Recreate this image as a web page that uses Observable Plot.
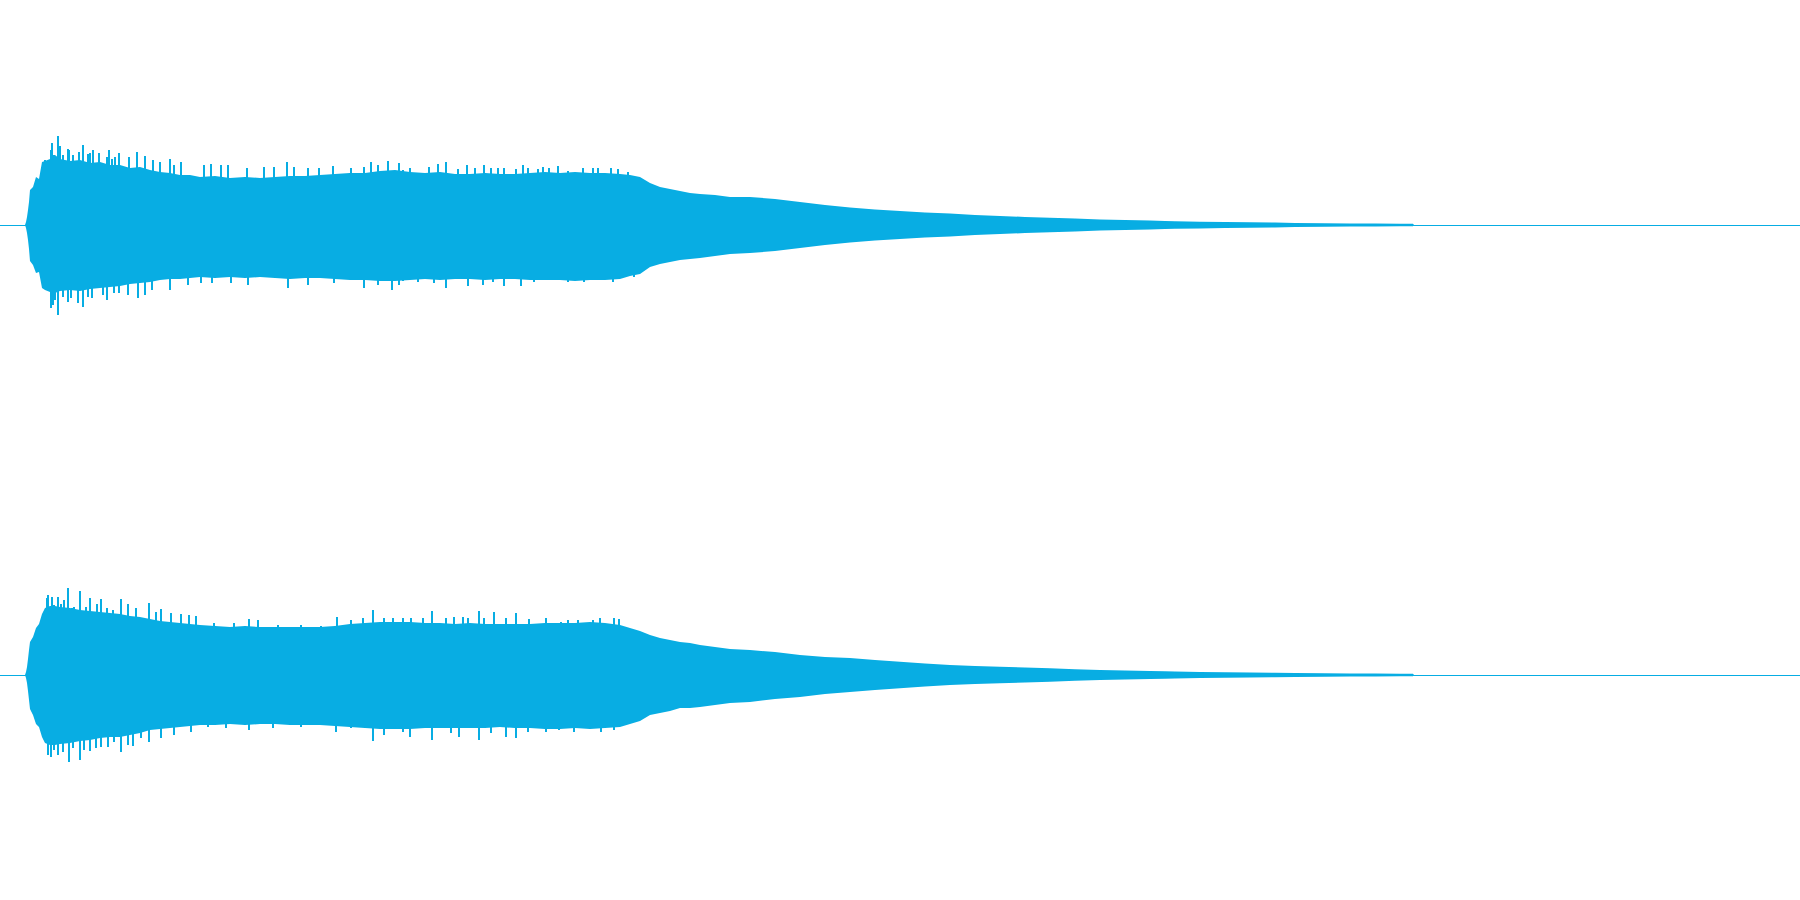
<!DOCTYPE html>
<html>
<head>
<meta charset="utf-8">
<script src="https://cdn.jsdelivr.net/npm/d3@7"></script>
<script src="https://cdn.jsdelivr.net/npm/@observablehq/plot@0.6"></script>
<style>
  html, body { margin: 0; padding: 0; background: #ffffff; overflow: hidden; }
  #chart svg { display: block; }
</style>
</head>
<body>
<div id="chart"></div>
<script>
// Time axis (seconds), total length of the clip
const duration = 9;
const channels = ["L", "R"];

// Envelope sample times (seconds)
const times = [0,0.125,0.13,0.135,0.14,0.145,0.15,0.165,0.18,0.195,0.21,0.225,0.25,0.275,0.3,0.35,0.4,0.45,0.5,0.55,0.6,0.65,0.7,0.75,0.8,0.85,0.9,0.95,1.0,1.075,1.15,1.225,1.3,1.375,1.45,1.525,1.6,1.675,1.75,1.825,1.9,1.975,2.05,2.125,2.2,2.275,2.35,2.425,2.5,2.575,2.65,2.725,2.8,2.875,2.95,3.025,3.1,3.15,3.2,3.25,3.3,3.35,3.4,3.45,3.5,3.575,3.65,3.75,3.875,4.0,4.125,4.25,4.375,4.5,4.625,4.75,4.875,5.0,5.125,5.25,5.375,5.5,5.625,5.75,5.825,5.875,6.0,6.125,6.25,6.375,6.475,6.625,6.75,6.875,7.0,7.065,7.07];

// Channel L: typical positive and negative peak (percent of full scale)
const leftMax = [0,0,1.3,3.6,6.7,10.2,15.6,16.9,21.3,20.4,28,28.4,29.3,31.1,29.3,28.4,28.9,27.6,28,26.7,26.7,25.3,25.8,24.4,23.6,23.1,22.2,22.2,21.3,21.8,20.9,21.3,20.9,21.3,21.8,21.8,22.2,22.7,23.1,23.1,24,24.4,23.6,23.1,23.6,22.7,22.7,23.1,22.7,22.7,23.1,23.6,23.1,23.6,23.1,23.1,22.7,22.2,21.3,18.7,16.9,16,15.1,14.2,13.8,13.3,12.4,12.4,11.6,10.2,8.9,7.8,6.9,6.2,5.6,5.1,4.4,4,3.6,3.2,2.9,2.4,2.2,2,1.8,1.7,1.5,1.3,1.2,1.1,0.9,0.8,0.7,0.7,0.6,0.6,0];
const leftMin = [0,0,1.3,3.6,6.7,10.7,16,17.8,21.3,20.9,28,28.9,29.8,30.2,29.3,28.9,29.3,28.4,28,27.6,27.1,26.2,25.8,25.3,24.4,24,24,23.6,23.1,23.6,23.1,23.6,23.1,23.6,24,23.6,23.6,24,24.4,24.4,24.9,24.9,24.4,24,24.4,24,24,24.4,24,24,24.4,24.4,24.4,24.9,24.4,24.4,24,22.7,21.8,18.7,17.3,16.4,15.6,15.1,14.7,13.8,12.9,12.4,11.6,10.2,8.9,7.8,6.9,6.2,5.6,5.1,4.4,4,3.6,3.2,2.9,2.4,2.2,2,1.8,1.7,1.5,1.3,1.2,1.1,0.9,0.8,0.7,0.7,0.6,0.6,0];

// Channel R
const rightMax = [0,0,1.3,3.6,7.1,11.1,14.7,16.9,20.9,22.7,27.1,29.8,30.7,30.7,30.2,29.8,28.9,28.4,28,27.6,27.1,26.2,25.8,24.9,24,23.6,23.1,22.7,22.2,21.8,21.3,21.8,21.3,21.3,21.3,21.3,21.3,21.8,22.7,23.1,23.6,23.6,23.6,23.1,23.1,22.7,23.1,22.7,22.7,22.7,22.7,23.1,23.1,23.1,23.6,23.1,22.2,20.9,19.6,17.8,16.4,15.6,14.7,14.2,13.3,12.4,11.6,11.1,10.2,8.9,8,7.6,6.7,5.9,5.1,4.4,4,3.7,3.3,3,2.6,2.2,2,1.8,1.7,1.6,1.3,1.2,1.1,1,0.9,0.8,0.7,0.7,0.6,0.6,0];
const rightMin = [0,0,1.3,3.6,7.1,11.1,15.1,17.8,21.8,23.1,27.6,30.2,31.1,31.1,30.7,30.2,29.3,28.9,28,27.6,27.6,26.7,25.8,24.4,24,23.6,23.1,22.7,22.2,22.2,21.8,22.2,21.8,21.8,22.2,22.2,22.2,22.7,23.1,23.6,24,24,24,23.6,23.6,23.6,23.6,23.6,23.1,23.6,23.6,24,24,23.6,24,23.6,23.1,21.8,20.4,17.8,16.9,16,14.7,14.7,14.2,13.3,12.4,12,10.7,9.8,8.4,7.6,6.7,5.9,5.1,4.4,4,3.7,3.3,3,2.6,2.2,2,1.8,1.7,1.6,1.3,1.2,1.1,1,0.9,0.8,0.7,0.7,0.6,0.6,0];

// Isolated peak columns: positive peaks (time s, %) and negative peaks (time s, %)
const leftUpT = [0.22,0.25,0.255,0.265,0.285,0.295,0.31,0.335,0.34,0.36,0.39,0.41,0.435,0.445,0.46,0.49,0.53,0.54,0.555,0.57,0.59,0.64,0.68,0.72,0.76,0.795,0.845,0.865,0.9,1.015,1.05,1.1,1.135,1.23,1.315,1.365,1.43,1.465,1.535,1.59,1.66,1.75,1.815,1.85,1.885,1.935,1.99,2.01,2.045,2.14,2.185,2.225,2.285,2.33,2.37,2.415,2.45,2.485,2.515,2.575,2.61,2.635,2.685,2.71,2.74,2.785,2.835,2.91,2.96,2.985,3.05,3.085,3.135];
const leftUpV = [28.9,33.3,36.4,31.1,39.6,35.1,31.1,33.8,33.3,31.1,32.4,35.6,31.6,32,33.3,32,30.2,33.3,29.3,30.2,32,30.2,32.4,30.7,28.9,28,29.3,26.7,28,26.7,27.1,26.7,26.7,25.3,25.8,25.8,28,25.8,25.3,25.3,26.2,25.3,25.8,28,26.7,28.4,27.6,24.4,25.3,25.8,27.1,28,24.9,26.7,25.3,26.7,25.3,25.3,25.3,24.9,26.7,25.3,24.9,25.8,25.3,26.2,24,25.3,25.3,25.3,25.3,24.9,23.6];
const leftDownT = [0.215,0.25,0.26,0.27,0.285,0.31,0.335,0.35,0.385,0.41,0.435,0.455,0.51,0.53,0.565,0.59,0.635,0.685,0.72,0.755,0.845,0.935,1.0,1.055,1.15,1.235,1.435,1.535,1.665,1.815,1.885,1.955,1.99,2.01,2.085,2.165,2.225,2.335,2.41,2.46,2.515,2.6,2.665,2.76,2.835,2.915,3.0,3.06,3.165];
const leftDownV = [28,36.9,35.6,33.3,40,32,34.2,32.4,34.7,36.4,32,32.4,31.1,33.3,30.2,30.2,31.1,32.4,31.1,28.9,28.9,26.7,25.8,25.8,25.8,26.7,28,26.7,25.8,28,26.7,28.9,26.7,24.9,25.3,25.8,28,27.1,26.7,25.3,27.1,27.1,25.3,24,25.3,25.3,24.4,25.3,23.1];

const rightUpT = [0.23,0.235,0.255,0.265,0.285,0.3,0.315,0.335,0.355,0.365,0.395,0.425,0.445,0.48,0.5,0.53,0.56,0.6,0.635,0.675,0.74,0.775,0.8,0.85,0.9,0.94,0.975,1.065,1.165,1.24,1.285,1.385,1.5,1.6,1.68,1.75,1.81,1.86,1.915,1.96,2.01,2.05,2.11,2.155,2.225,2.265,2.31,2.335,2.39,2.415,2.465,2.525,2.575,2.64,2.725,2.8,2.835,2.885,2.96,2.995,3.065,3.09];
const rightUpV = [34.2,35.6,34.7,31.1,34.7,31.6,33.3,38.7,29.8,30.2,37.3,30.2,34.2,31.6,33.8,29.8,28.9,33.8,31.6,29.8,32,28,29.3,27.6,27.1,26.7,26.2,23.1,23.1,24.9,24.4,22.2,22.2,21.8,25.8,24.4,25.3,28.9,25.3,25.3,25.3,25.3,25.3,28.4,25.3,25.8,25.8,25.3,28.4,25.3,28,25.3,27.6,24.9,25.3,23.6,24.4,24.4,24.4,25.3,25.3,24.9];
const rightDownT = [0.235,0.25,0.265,0.285,0.31,0.34,0.36,0.395,0.415,0.445,0.475,0.5,0.535,0.565,0.6,0.635,0.66,0.7,0.74,0.8,0.865,0.95,1.035,1.125,1.24,1.36,1.5,1.675,1.75,1.86,1.915,2.01,2.045,2.155,2.25,2.29,2.39,2.45,2.525,2.575,2.635,2.725,2.79,2.865,3.0,3.065];
const rightDownV = [35.6,36.4,33.3,35.6,34.2,38.7,32.4,37.8,33.3,33.8,32.4,32,32,29.8,34.2,31.1,31.6,28,29.8,28,26.7,25.3,23.1,23.6,24.4,23.6,23.1,25.3,23.6,29.3,26.7,25.3,27.6,28.9,25.8,27.6,28.9,25.8,27.6,28,25.3,25.3,24.4,25.3,25.3,24.4];

const color = "#08ade3";

const envelope = [
  ...times.map((t, i) => ({ch: "L", t, hi: leftMax[i], lo: -leftMin[i]})),
  ...times.map((t, i) => ({ch: "R", t, hi: rightMax[i], lo: -rightMin[i]}))
];
const peaks = [
  ...leftUpT.map((t, i) => ({ch: "L", t, v: leftUpV[i]})),
  ...leftDownT.map((t, i) => ({ch: "L", t, v: -leftDownV[i]})),
  ...rightUpT.map((t, i) => ({ch: "R", t, v: rightUpV[i]})),
  ...rightDownT.map((t, i) => ({ch: "R", t, v: -rightDownV[i]}))
];

const chart = Plot.plot({
  width: 1800,
  height: 900,
  margin: 0,
  marginTop: 0, marginRight: 0, marginBottom: 0, marginLeft: 0,
  x: {domain: [0, duration], axis: null},
  y: {domain: [-100, 100], axis: null},
  fy: {domain: channels, axis: null, padding: 0},
  marks: [
    Plot.areaY(envelope, {x: "t", y1: "lo", y2: "hi", fy: "ch", fill: color, curve: "linear"}),
    Plot.ruleX(peaks, {x: "t", y1: 0, y2: "v", fy: "ch", stroke: color, strokeWidth: 2, shapeRendering: "crispEdges"}),
    Plot.ruleY([0], {stroke: color, strokeWidth: 1})
  ]
});
document.getElementById("chart").appendChild(chart);
</script>
</body>
</html>
